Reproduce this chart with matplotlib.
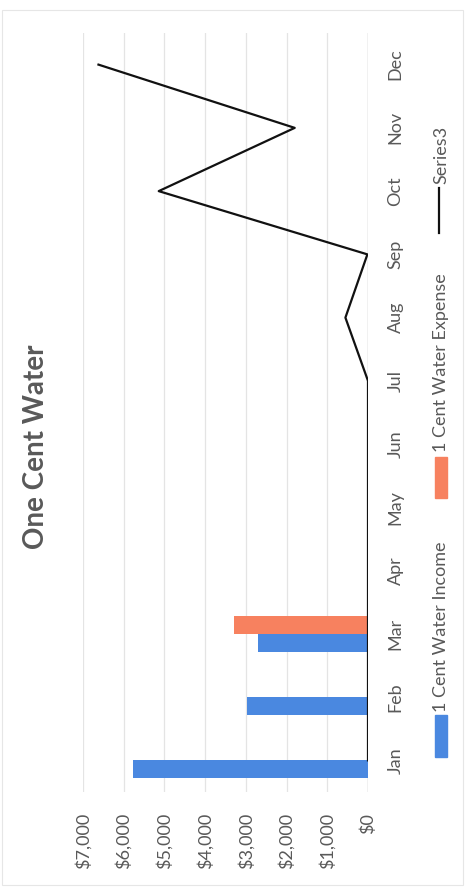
import matplotlib
matplotlib.use("Agg")
import matplotlib.pyplot as plt
from matplotlib.patches import Rectangle
from matplotlib.lines import Line2D
import numpy as np

months = ["Jan", "Feb", "Mar", "Apr", "May", "Jun", "Jul", "Aug", "Sep", "Oct", "Nov", "Dec"]
income = [5770, 2960, 2700, 0, 0, 0, 0, 0, 0, 0, 0, 0]
expense = [0, 0, 3300, 0, 0, 0, 0, 0, 0, 0, 0, 0]
series3 = [0, 0, 0, 0, 0, 0, 0, 555, 15, 5140, 1800, 6620]
value_ticks = [0, 1000, 2000, 3000, 4000, 5000, 6000, 7000]
value_labels = ["$0", "$1,000", "$2,000", "$3,000", "$4,000", "$5,000", "$6,000", "$7,000"]

title = "One Cent Water"
legend_names = ["1 Cent Water Income", "1 Cent Water Expense", "Series3"]

blue = "#4A88E0"
orange = "#F7815F"
textc = "#595959"
plt.rcParams['font.family'] = ['Lato', 'DejaVu Sans']
fs = 13

W, H = 466, 888
fig = plt.figure(figsize=(W / 100, H / 100), dpi=100)
fig.patch.set_facecolor("white")

def fx(px):
    return px / W

def fy(py):
    return (H - py) / H

ax = fig.add_axes([fx(83), fy(792), fx(368) - fx(83), fy(33) - fy(792)])
pos = np.arange(len(months))
bh = 1 / 3.5
ax.barh(pos - bh / 2, income, height=bh, color=blue, zorder=3)
ax.barh(pos + bh / 2, expense, height=bh, color=orange, zorder=3)
ax.plot(series3, pos, color="#111111", lw=1.6, zorder=4)

ax.set_xlim(7000, 0)
ax.set_ylim(-0.5, 11.5)
ax.set_xticks(value_ticks)
ax.set_xticklabels(value_labels, rotation=90, color=textc, fontsize=fs)
ax.set_yticks(pos)
ax.set_yticklabels(months, rotation=90, color=textc, fontsize=fs, va="center")
ax.yaxis.tick_right()
ax.tick_params(axis="x", length=0, pad=15)
ax.tick_params(axis="y", length=0, pad=14)
for s in ax.spines.values():
    s.set_visible(False)
ax.grid(axis="x", color="#e4e4e4", lw=0.9, zorder=0)
ax.axvline(0, color="#c8c8c8", lw=1, zorder=1)

# title
fig.text(fx(36), fy(447), title, rotation=90, ha="center", va="center",
         fontsize=20, fontweight="bold", color=textc)

# manual rotated legend
lx = 441
fig.add_artist(Rectangle((fx(435), fy(757)), fx(447) - fx(435), fy(715) - fy(757),
                         transform=fig.transFigure, color=blue))
fig.text(fx(lx), fy(712), legend_names[0], rotation=90, ha="center", va="bottom",
         fontsize=fs, color=textc)
fig.add_artist(Rectangle((fx(435), fy(498)), fx(447) - fx(435), fy(457) - fy(498),
                         transform=fig.transFigure, color=orange))
fig.text(fx(lx), fy(452), legend_names[1], rotation=90, ha="center", va="bottom",
         fontsize=fs, color=textc)
fig.add_artist(Line2D([fx(439), fx(439)], [fy(233), fy(188)], transform=fig.transFigure,
                      color="#111111", lw=1.6))
fig.text(fx(lx), fy(184), legend_names[2], rotation=90, ha="center", va="bottom",
         fontsize=fs, color=textc)

# faint chart border
fig.add_artist(Rectangle((fx(2), fy(885)), fx(463) - fx(2), fy(10) - fy(885),
                         transform=fig.transFigure, fill=False, ec="#e6e6e6", lw=0.8))

fig.savefig("out.png", dpi=100, facecolor="white")
